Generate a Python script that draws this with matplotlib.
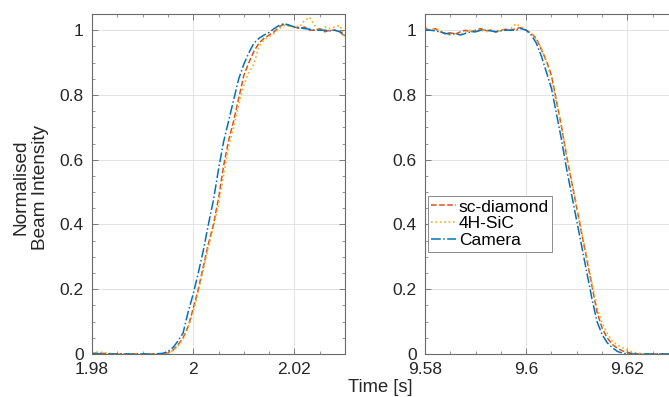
import numpy as np
import matplotlib.pyplot as plt
from matplotlib.ticker import MultipleLocator, FuncFormatter

plt.rcParams['font.family'] = ['Liberation Sans', 'DejaVu Sans']

# beam switch-on (left) and switch-off (right), 1 ms steps
t_on = [1.980, 1.981, 1.982, 1.983, 1.984, 1.985, 1.986, 1.987, 1.988, 1.989,
        1.990, 1.991, 1.992, 1.993, 1.994, 1.995, 1.996, 1.997, 1.998, 1.999,
        2.000, 2.001, 2.002, 2.003, 2.004, 2.005, 2.006, 2.007, 2.008, 2.009,
        2.010, 2.011, 2.012, 2.013, 2.014, 2.015, 2.016, 2.017, 2.018, 2.019,
        2.020, 2.021, 2.022, 2.023, 2.024, 2.025, 2.026, 2.027, 2.028, 2.029,
        2.030]
cam_on = [0.000, 0.001, 0.000, 0.000, 0.000, 0.000, 0.000, 0.000, 0.000, 0.000,
          0.000, 0.000, 0.000, 0.001, 0.002, 0.008, 0.020, 0.040, 0.065, 0.130,
          0.185, 0.250, 0.320, 0.400, 0.475, 0.570, 0.655, 0.720, 0.785, 0.850,
          0.895, 0.930, 0.960, 0.975, 0.985, 0.993, 1.005, 1.015, 1.020, 1.015,
          1.010, 1.008, 1.005, 1.003, 1.000, 1.000, 1.000, 0.998, 1.000, 0.995,
          0.985]
dia_on = [0.002, 0.003, 0.002, 0.001, 0.000, 0.000, 0.000, 0.000, 0.000, 0.000,
          0.000, 0.000, 0.000, 0.000, 0.001, 0.004, 0.012, 0.028, 0.050, 0.085,
          0.140, 0.200, 0.270, 0.340, 0.400, 0.480, 0.580, 0.660, 0.720, 0.790,
          0.860, 0.900, 0.935, 0.960, 0.975, 0.985, 0.995, 1.010, 1.020, 1.015,
          1.010, 1.005, 1.010, 1.000, 1.000, 1.005, 0.995, 1.000, 1.000, 0.995,
          0.980]
sic_on = [0.004, 0.006, 0.005, 0.003, 0.001, 0.000, 0.000, 0.000, 0.000, 0.000,
          0.000, 0.000, 0.000, 0.000, 0.001, 0.003, 0.010, 0.025, 0.045, 0.080,
          0.130, 0.190, 0.260, 0.330, 0.390, 0.460, 0.550, 0.640, 0.700, 0.770,
          0.830, 0.870, 0.895, 0.950, 0.970, 0.980, 0.990, 1.005, 1.015, 1.012,
          1.010, 1.010, 1.030, 1.040, 1.015, 1.000, 1.010, 1.005, 1.010, 1.015,
          0.975]

t_off = [9.580, 9.581, 9.582, 9.583, 9.584, 9.585, 9.586, 9.587, 9.588, 9.589,
         9.590, 9.591, 9.592, 9.593, 9.594, 9.595, 9.596, 9.597, 9.598, 9.599,
         9.600, 9.601, 9.602, 9.603, 9.604, 9.605, 9.606, 9.607, 9.608, 9.609,
         9.610, 9.611, 9.612, 9.613, 9.614, 9.615, 9.616, 9.617, 9.618, 9.619,
         9.620, 9.621, 9.622, 9.623, 9.624, 9.625, 9.626, 9.627, 9.628, 9.629,
         9.630]
cam_off = [1.000, 1.000, 0.998, 0.995, 0.990, 0.988, 0.990, 0.985, 0.990, 0.995,
           0.995, 1.000, 1.000, 0.998, 0.995, 0.998, 1.000, 1.000, 1.000, 1.005,
           1.000, 0.985, 0.960, 0.920, 0.870, 0.820, 0.740, 0.660, 0.570, 0.490,
           0.410, 0.330, 0.250, 0.170, 0.100, 0.060, 0.035, 0.020, 0.008, 0.003,
           0.000, 0.000, 0.000, 0.000, 0.000, 0.000, 0.000, 0.000, 0.000, 0.000,
           0.000]
dia_off = [1.005, 1.000, 1.005, 0.995, 0.990, 0.992, 0.988, 0.995, 1.000, 0.995,
           1.000, 1.005, 0.998, 1.000, 0.995, 1.000, 1.003, 1.000, 1.005, 1.008,
           1.000, 0.990, 0.975, 0.940, 0.905, 0.860, 0.780, 0.700, 0.610, 0.530,
           0.450, 0.370, 0.290, 0.210, 0.130, 0.080, 0.050, 0.030, 0.018, 0.010,
           0.005, 0.002, 0.000, 0.000, 0.000, 0.000, 0.000, 0.000, 0.000, 0.000,
           0.000]
sic_off = [1.010, 1.000, 1.005, 1.000, 0.988, 0.985, 0.990, 0.985, 0.995, 1.000,
           0.995, 1.000, 0.995, 1.000, 0.993, 1.000, 1.000, 1.005, 1.020, 1.010,
           1.000, 0.992, 0.970, 0.945, 0.900, 0.850, 0.775, 0.700, 0.615, 0.535,
           0.455, 0.375, 0.300, 0.220, 0.145, 0.095, 0.065, 0.040, 0.028, 0.020,
           0.012, 0.006, 0.003, 0.001, 0.000, 0.000, 0.000, 0.000, 0.000, 0.000,
           0.000]

c_dia = '#D95319'
c_sic = '#EDB120'
c_cam = '#0072BD'
fs = 12.5

fig = plt.figure(figsize=(6.69, 3.97), dpi=100)
W, H = 669.0, 397.0
ax1 = fig.add_axes([92 / W, 1 - 354 / H, 253 / W, 340 / H])
ax2 = fig.add_axes([425 / W, 1 - 354 / H, 253 / W, 340 / H])

fmt = FuncFormatter(lambda v, p: '%g' % round(v, 4))

for ax, t, d, s, c, x0 in [(ax1, t_on, dia_on, sic_on, cam_on, 1.98),
                           (ax2, t_off, dia_off, sic_off, cam_off, 9.58)]:
    ax.plot(t, d, '--', color=c_dia, lw=1.1, label='sc-diamond')
    ax.plot(t, s, ':', color=c_sic, lw=1.2, label='4H-SiC')
    ax.plot(t, c, '-.', color=c_cam, lw=1.1, label='Camera')
    ax.set_xlim(x0, x0 + 0.05)
    ax.set_ylim(0, 1.05)
    ax.xaxis.set_major_locator(MultipleLocator(0.02))
    ax.xaxis.set_minor_locator(MultipleLocator(0.005))
    ax.yaxis.set_major_locator(MultipleLocator(0.2))
    ax.yaxis.set_minor_locator(MultipleLocator(0.05))
    ax.xaxis.set_major_formatter(fmt)
    ax.yaxis.set_major_formatter(fmt)
    ax.grid(True, which='major', color='#e3e3e3', lw=0.7)
    ax.set_axisbelow(True)
    ax.tick_params(which='both', direction='in', top=True, right=True,
                   color='#6a6a6a', labelcolor='#262626', labelsize=fs)
    ax.tick_params(which='major', length=4, width=0.6)
    ax.tick_params(which='minor', length=2.5, width=0.5)
    ax.tick_params(axis='x', which='major', pad=6)
    ax.tick_params(axis='y', which='major', pad=6)
    for sp in ax.spines.values():
        sp.set_color('#6a6a6a')
        sp.set_linewidth(0.8)

leg = ax2.legend(loc='upper left', bbox_to_anchor=(0.01, 0.465), fontsize=12.5,
                 handlelength=1.45, handletextpad=0.15, borderpad=0.2,
                 labelspacing=0.1, borderaxespad=0, fancybox=False,
                 framealpha=1, edgecolor='#7a7a7a')
leg.get_frame().set_linewidth(0.6)

fig.text(31 / W, 1 - 187 / H, 'Normalised\nBeam Intensity', rotation=90,
         ha='center', va='center', multialignment='center', fontsize=13.7,
         color='#262626', linespacing=1.2)
fig.text(380 / W, 1 - 379 / H, 'Time [s]', ha='center', va='top',
         fontsize=13.2, color='#262626')

fig.savefig('out.png', dpi=100)
